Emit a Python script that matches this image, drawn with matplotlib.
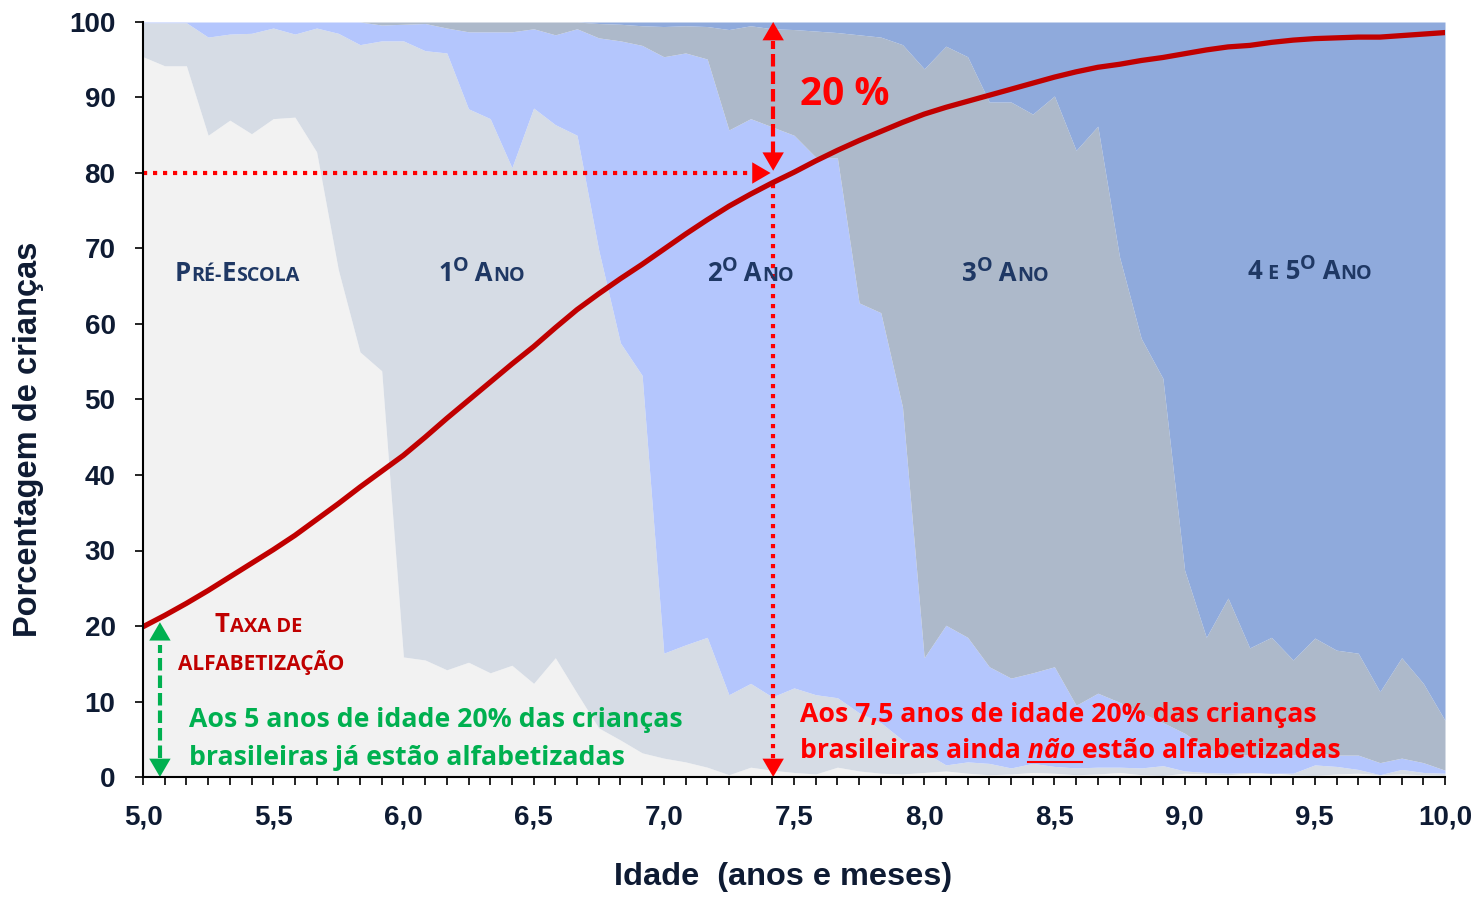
import numpy as np
import matplotlib
matplotlib.use('Agg')
import matplotlib.pyplot as plt
from matplotlib.ticker import FixedLocator
from matplotlib.lines import Line2D

# idade em meses: 5,0 a 10,0 anos
meses = np.arange(61)
idade = 5 + meses / 12.0

# topo acumulado de cada faixa (% de criancas)
topo_pre = [95.4, 94.2, 94.2, 85.0, 87.0, 85.2, 87.2, 87.4, 82.8, 67.2,
            56.3, 53.8, 15.9, 15.5, 14.2, 15.2, 13.8, 14.8, 12.4, 15.8,
            11.1, 6.5, 4.9, 3.2, 2.5, 2.0, 1.3, 0.3, 1.3, 0.9,
            0.6, 0.4, 1.3, 0.8, 0.5, 0.4, 0.6, 0.8, 0.5, 0.3,
            0.4, 0.6, 0.5, 0.3, 0.4, 0.6, 0.3, 0.2, 0.5, 0.4,
            0.3, 0.5, 0.6, 0.3, 0.2, 0.4, 0.5, 0.3, 0.4, 0.3,
            0.2]
topo_1ano = [99.9, 99.9, 99.9, 98.0, 98.4, 98.5, 99.2, 98.4, 99.2, 98.5,
             97.0, 97.5, 97.5, 96.2, 95.9, 88.5, 87.2, 80.7, 88.6, 86.4,
             85.0, 69.8, 57.5, 53.2, 16.4, 17.5, 18.5, 10.9, 12.4, 10.6,
             11.8, 10.9, 10.5, 8.5, 7.2, 4.9, 3.3, 1.6, 2.0, 1.8,
             1.2, 1.8, 1.4, 1.2, 1.3, 1.3, 1.2, 1.5, 0.8, 0.6,
             0.5, 0.6, 0.5, 0.5, 1.6, 1.4, 1.0, 0.3, 1.0, 0.6,
             0.5]
topo_2ano = [100, 100, 100, 100, 100, 100, 100, 100, 100, 100,
             100, 99.6, 99.7, 99.8, 99.2, 98.7, 98.7, 98.7, 99.1, 98.3,
             99.1, 97.9, 97.5, 96.9, 95.4, 95.9, 95.1, 85.7, 87.2, 86.1,
             85.0, 82.1, 82.0, 62.8, 61.5, 49.0, 15.8, 20.1, 18.5, 14.6,
             13.1, 13.8, 14.6, 9.5, 11.1, 9.9, 8.5, 7.2, 5.8, 3.8,
             2.9, 2.9, 2.9, 2.9, 3.2, 2.9, 2.9, 1.9, 2.5, 1.9,
             0.9]
topo_3ano = [100, 100, 100, 100, 100, 100, 100, 100, 100, 100,
             100, 100, 100, 100, 100, 100, 100, 100, 100, 100,
             100, 99.8, 99.7, 99.5, 99.4, 99.5, 99.4, 99.0, 99.5, 99.1,
             99.0, 98.8, 98.6, 98.3, 98.0, 97.0, 93.8, 96.8, 95.4, 89.4,
             89.4, 87.8, 90.2, 83.0, 86.2, 68.9, 58.1, 52.8, 27.4, 18.5,
             23.7, 17.1, 18.5, 15.5, 18.4, 16.8, 16.4, 11.3, 15.8, 12.4,
             7.5]
topo_45ano = [100] * 61

# taxa de alfabetizacao
taxa = [19.9, 21.4, 23.0, 24.7, 26.5, 28.3, 30.1, 32.0, 34.1, 36.2,
        38.4, 40.5, 42.6, 45.0, 47.5, 49.9, 52.3, 54.7, 57.0, 59.5,
        61.9, 64.0, 66.0, 67.9, 69.9, 71.9, 73.8, 75.6, 77.2, 78.7,
        80.1, 81.6, 83.0, 84.3, 85.5, 86.7, 87.8, 88.7, 89.5, 90.3,
        91.1, 91.9, 92.7, 93.4, 94.0, 94.4, 94.9, 95.3, 95.8, 96.3,
        96.7, 96.9, 97.3, 97.6, 97.8, 97.9, 98.0, 98.0, 98.2, 98.4,
        98.6]

ticks_x = [5.0, 5.5, 6.0, 6.5, 7.0, 7.5, 8.0, 8.5, 9.0, 9.5, 10.0]
labels_x = ['5,0', '5,5', '6,0', '6,5', '7,0', '7,5', '8,0', '8,5', '9,0', '9,5', '10,0']
ticks_y = [0, 10, 20, 30, 40, 50, 60, 70, 80, 90, 100]

cores_faixas = ['#F2F2F2', '#D6DCE5', '#B4C6FD', '#ADB9CA', '#8FAADC']
navy = '#0E1B33'
azul_rot = '#1F3864'
vermelho = '#FF0000'
verde = '#00B050'
fonte_txt = ['Open Sans', 'DejaVu Sans']

plt.rcParams['font.family'] = ['Liberation Sans', 'DejaVu Sans']

fig = plt.figure(figsize=(14.79, 8.98), dpi=100)
ax = fig.add_axes([143 / 1479, 1 - 777 / 898, 1302 / 1479, 755 / 898])

base = np.zeros(61)
for topo, cor in zip([topo_pre, topo_1ano, topo_2ano, topo_3ano, topo_45ano], cores_faixas):
    ax.fill_between(idade, base, topo, color=cor, lw=0, zorder=1)
    base = np.array(topo, dtype=float)

ax.plot(idade, taxa, color='#C00000', lw=3.8, solid_capstyle='round', zorder=6)

ax.set_xlim(5, 10)
ax.set_ylim(0, 100)
for s in ['top', 'right']:
    ax.spines[s].set_visible(False)
for s in ['left', 'bottom']:
    ax.spines[s].set_linewidth(1.5)
    ax.spines[s].set_zorder(8)

ax.set_xticks(ticks_x, labels_x)
ax.xaxis.set_minor_locator(FixedLocator(idade))
ax.set_yticks(ticks_y)
ax.tick_params(which='both', direction='out', length=5.8, width=1.2, color='black')
ax.tick_params(axis='x', which='major', pad=14)
ax.tick_params(axis='y', pad=14)
for lab in ax.get_xticklabels() + ax.get_yticklabels():
    lab.set_fontsize(20)
    lab.set_fontweight('bold')
    lab.set_color(navy)

ax.set_ylabel('Porcentagem de crianças', fontsize=23.5, fontweight='bold', color=navy)
ax.yaxis.set_label_coords(-0.076, 0.447)
ax.set_xlabel('Idade  (anos e meses)', fontsize=23.4, fontweight='bold', color=navy)
ax.xaxis.set_label_coords(0.4916, -0.113)


def escreve(x, y, pecas, cor):
    # escreve pedacos de texto em sequencia na mesma linha de base
    r = fig.canvas.get_renderer()
    W, H = fig.bbox.width, fig.bbox.height
    px, py = ax.transData.transform((x, y))
    saida = []
    for txt, tam, sobe, estilo in pecas:
        t = fig.text(px / W, (py + sobe) / H, txt, fontsize=tam, fontweight='bold',
                     style=estilo, color=cor, family=fonte_txt,
                     ha='left', va='baseline', zorder=10)
        bb = t.get_window_extent(r)
        saida.append((px, py, bb))
        px = bb.x1
    return saida


def ponta(tip, de, cor):
    ax.annotate('', xy=tip, xytext=de, annotation_clip=False,
                arrowprops=dict(arrowstyle='-|>,head_length=0.6,head_width=0.35',
                                color=cor, lw=0, shrinkA=0, shrinkB=0, mutation_scale=22),
                zorder=7)


# rotulos das series (versalete)
G, P = 18.5, 14.2
escreve(5.123, 65.7, [('P', G, 0, 'normal'), ('RÉ-', P, 0, 'normal'),
                      ('E', G, 0, 'normal'), ('SCOLA', P, 0, 'normal')], azul_rot)
for xx, num in [(6.133, '1'), (7.166, '2'), (8.145, '3')]:
    escreve(xx, 65.7, [(num, G, 0, 'normal'), ('O', P, 10, 'normal'),
                       (' A', G, 0, 'normal'), ('NO', P, 0, 'normal')], azul_rot)
escreve(9.243, 65.9, [('4', G, 0, 'normal'), (' E', P, 0, 'normal'), (' 5', G, 0, 'normal'),
                      ('O', P, 10, 'normal'), (' A', G, 0, 'normal'), ('NO', P, 0, 'normal')], azul_rot)

escreve(5.276, 19.2, [('T', 18.5, 0, 'normal'), ('AXA DE', 14.5, 0, 'normal')], '#C00000')
escreve(5.134, 14.2, [('ALFABETIZAÇÃO', 15.0, 0, 'normal')], '#C00000')

# linhas de referencia 80% / 7,5 anos
x_ref = 7.42
ax.plot([5.0, 7.37], [80, 80], color=vermelho, lw=3, dashes=(1, 1.4), zorder=5)
ponta((x_ref - 0.01, 80), (x_ref - 0.08, 80), vermelho)
ax.plot([x_ref, x_ref], [78.5, 2.0], color=vermelho, lw=3, dashes=(1, 1.4), zorder=5)
ponta((x_ref, 0), (x_ref, 3), vermelho)
ax.plot([x_ref, x_ref], [82.5, 97.5], color=vermelho, lw=3, dashes=(3, 1.2), zorder=5)
ponta((x_ref, 100), (x_ref, 97), vermelho)
ponta((x_ref, 80.3), (x_ref, 83.3), vermelho)

x_verde = 5.065
ax.plot([x_verde, x_verde], [2.5, 17.5], color=verde, lw=3, dashes=(3, 1.2), zorder=5)
ponta((x_verde, 0), (x_verde, 3), verde)
ponta((x_verde, 20.5), (x_verde, 17.5), verde)

escreve(7.523, 89.0, [('20 %', 28, 0, 'normal')], vermelho)

T = 19.2
escreve(5.177, 6.6, [('Aos 5 anos de idade 20% das crianças', T, 0, 'normal')], verde)
escreve(5.177, 1.6, [('brasileiras já estão alfabetizadas', T, 0, 'normal')], verde)
escreve(7.523, 7.3, [('Aos 7,5 anos de idade 20% das crianças', T, 0, 'normal')], vermelho)
lin = escreve(7.523, 2.5, [('brasileiras ainda', T, 0, 'normal'), (' não', T, 0, 'italic'),
                           (' estão alfabetizadas', T, 0, 'normal')], vermelho)

# sublinhado em "nao "
r = fig.canvas.get_renderer()
tmp1 = fig.text(0, 0, ' n', fontsize=T, fontweight='bold', family=fonte_txt)
tmp2 = fig.text(0, 0, 'n', fontsize=T, fontweight='bold', family=fonte_txt)
esp = tmp1.get_window_extent(r).width - tmp2.get_window_extent(r).width
tmp1.remove()
tmp2.remove()
W, H = fig.bbox.width, fig.bbox.height
x0 = lin[1][0] + esp
x1 = lin[2][0] + esp
yb = lin[1][1] - 4
fig.add_artist(Line2D([x0 / W, x1 / W], [yb / H, yb / H], transform=fig.transFigure,
                      color=vermelho, lw=1.5, zorder=10))

fig.savefig('out.png', dpi=100)
